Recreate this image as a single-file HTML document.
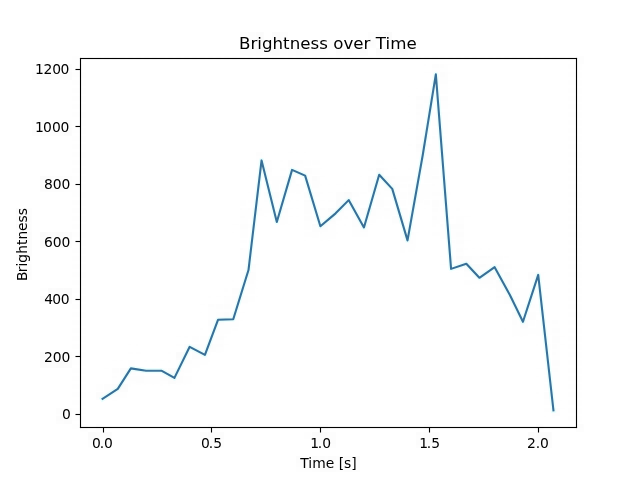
<!DOCTYPE html>
<html lang="en">
<head>
<meta charset="utf-8">
<title>Brightness over Time</title>
<style>
html,body{margin:0;padding:0;background:#fff}
body{width:640px;height:480px;overflow:hidden}
svg{display:block}
text{font-family:"DejaVu Sans","Liberation Sans",sans-serif;font-size:13.889px;fill:#000}
.title{font-size:16.667px}
.ax rect{fill:#000}
.line{stroke:#3a7198;stroke-width:2.083;stroke-linejoin:round;stroke-linecap:square;fill:none}
.halo{stroke:#0ff;stroke-opacity:0.08;stroke-width:5.25}
</style>
</head>
<body>
<svg width="640" height="480" viewBox="0 0 640 480" role="img" aria-label="Brightness over Time line chart">
<rect x="0" y="0" width="640" height="480" fill="#fff"/>
<!-- data line -->
<polyline class="line halo" points="102.55,398.75 117.79,388.82 130.86,368.4 146.11,370.7 161.36,370.7 174.43,377.89 189.68,346.82 204.93,354.88 218,319.78 233.24,319.21 248.49,270.02 261.56,160.41 276.81,221.98 292.06,169.91 305.13,175.66 320.38,226.29 335.62,213.35 348.69,200.11 363.94,227.44 379.19,174.8 392.26,188.89 407.51,240.39 422.76,154.95 435.83,74.4 451.07,268.87 466.32,263.69 479.39,277.78 494.64,267.14 509.89,295.04 522.96,321.8 538.21,274.91 553.45,410.4"/>
<polyline class="line" points="102.55,398.75 117.79,388.82 130.86,368.4 146.11,370.7 161.36,370.7 174.43,377.89 189.68,346.82 204.93,354.88 218,319.78 233.24,319.21 248.49,270.02 261.56,160.41 276.81,221.98 292.06,169.91 305.13,175.66 320.38,226.29 335.62,213.35 348.69,200.11 363.94,227.44 379.19,174.8 392.26,188.89 407.51,240.39 422.76,154.95 435.83,74.4 451.07,268.87 466.32,263.69 479.39,277.78 494.64,267.14 509.89,295.04 522.96,321.8 538.21,274.91 553.45,410.4"/>
<g class="ink">
<!-- x ticks -->
<g class="ax">
<rect x="102.945" y="427.5" width="1.111" height="5"/>
<rect x="210.945" y="427.5" width="1.111" height="5"/>
<rect x="319.945" y="427.5" width="1.111" height="5"/>
<rect x="428.945" y="427.5" width="1.111" height="5"/>
<rect x="537.944" y="427.5" width="1.111" height="5"/>
</g>
<!-- y ticks -->
<g class="ax">
<rect x="75.5" y="413.945" width="5" height="1.111"/>
<rect x="75.5" y="355.945" width="5" height="1.111"/>
<rect x="75.5" y="298.945" width="5" height="1.111"/>
<rect x="75.5" y="240.945" width="5" height="1.111"/>
<rect x="75.5" y="183.945" width="5" height="1.111"/>
<rect x="75.5" y="125.945" width="5" height="1.111"/>
<rect x="75.5" y="68.945" width="5" height="1.111"/>
</g>
<!-- spines -->
<g class="ax">
<rect x="79.944" y="57.944" width="1.111" height="370.111"/>
<rect x="575.944" y="57.944" width="1.111" height="370.111"/>
<rect x="79.944" y="426.944" width="497.111" height="1.111"/>
<rect x="79.944" y="57.944" width="497.111" height="1.111"/>
</g>
<!-- x tick labels -->
<g>
<text x="91.985 99.673 103.969" y="448">0.0</text>
<text x="200.895 208.708 213.129" y="448">0.5</text>
<text x="310.18 317.693 322.364" y="448">1.0</text>
<text x="419.215 426.728 431.149" y="448">1.5</text>
<text x="526.895 535.708 540.004" y="448">2.0</text>
</g>
<!-- y tick labels -->
<g>
<text x="62.03" y="419">0</text>
<text x="43.905 52.717 61.421" y="362">200</text>
<text x="44.205 52.142 60.721" y="304">400</text>
<text x="43.9 52.713 61.541" y="247">600</text>
<text x="43.9 52.713 61.541" y="189">800</text>
<text x="34.9 42.963 51.941 60.419" y="132">1000</text>
<text x="34.9 43.513 52.241 60.619" y="74">1200</text>
</g>
<!-- axis labels and title -->
<g>
<text class="xlabel" x="300.3 308.347 312.191 325.706 334.253 338.659 344.066 351.3" y="468">Time [s]</text>
<text class="ylabel" transform="rotate(-90)" x="-281.1 -272.334 -266.381 -262.772 -253.725 -244.928 -239.491 -231.069 -222.538 -215.303" y="26.5">Brightness</text>
<text class="title" x="238.94 250.388 257.258 261.909 272.513 283.101 289.643 300.231 310.507 319.205 327.919 333.242 343.455 353.341 363.601 370.486 375.809 385.491 390.142 406.403" y="49">Brightness over Time</text>
</g>
</g>
<g class="jpeg-noise" aria-hidden="true">
<path fill="#fff" fill-opacity="0.0043" d="M424 112h8v8h-8zM248 232h8v8h-8zM536 296h8v8h-8z"/>
<path fill="#fff" fill-opacity="0.0082" d="M80 56h8v8h-8zM416 160h8v8h-8zM392 200h8v8h-8zM272 208h8v8h-8zM408 216h8v8h-8zM400 224h8v8h-8zM536 288h8v8h-8zM520 312h8v8h-8zM88 424h8v8h-8zM112 424h8v8h-8zM120 424h8v8h-8zM128 424h8v8h-8zM136 424h8v8h-8zM144 424h8v8h-8zM152 424h8v8h-8zM160 424h8v8h-8zM168 424h8v8h-8zM176 424h8v8h-8zM184 424h8v8h-8zM192 424h8v8h-8zM200 424h8v8h-8zM216 424h8v8h-8zM224 424h8v8h-8zM232 424h8v8h-8zM240 424h8v8h-8zM248 424h8v8h-8zM256 424h8v8h-8zM264 424h8v8h-8zM272 424h8v8h-8zM280 424h8v8h-8zM288 424h8v8h-8zM296 424h8v8h-8zM304 424h8v8h-8zM328 424h8v8h-8zM336 424h8v8h-8zM344 424h8v8h-8zM352 424h8v8h-8zM360 424h8v8h-8zM368 424h8v8h-8zM376 424h8v8h-8zM384 424h8v8h-8zM392 424h8v8h-8zM400 424h8v8h-8zM408 424h8v8h-8zM416 424h8v8h-8zM432 424h8v8h-8zM440 424h8v8h-8zM448 424h8v8h-8zM456 424h8v8h-8zM464 424h8v8h-8zM472 424h8v8h-8zM480 424h8v8h-8zM488 424h8v8h-8zM496 424h8v8h-8zM504 424h8v8h-8zM512 424h8v8h-8zM520 424h8v8h-8zM528 424h8v8h-8zM544 424h8v8h-8zM552 424h8v8h-8zM560 424h8v8h-8z"/>
<path fill="#fff" fill-opacity="0.0122" d="M432 96h8v8h-8zM440 184h8v8h-8z"/>
<path fill="#fff" fill-opacity="0.0161" d="M424 120h8v8h-8zM416 168h8v8h-8zM440 168h8v8h-8zM408 208h8v8h-8z"/>
<path fill="#fff" fill-opacity="0.0200" d="M432 88h8v8h-8z"/>
<path fill="#fff" fill-opacity="0.0239" d="M424 128h8v8h-8z"/>
<path fill="#fff" fill-opacity="0.0278" d="M144 368h8v8h-8z"/>
<path fill="#fff" fill-opacity="0.0318" d="M152 368h8v8h-8z"/>
<path fill="#000" fill-opacity="0.0043" d="M240 32h8v8h-8zM280 32h8v8h-8zM368 32h8v8h-8zM280 40h8v8h-8zM288 40h8v8h-8zM304 40h8v8h-8zM312 40h8v8h-8zM320 40h8v8h-8zM344 40h8v8h-8zM352 40h8v8h-8zM320 48h8v8h-8zM408 48h8v8h-8zM32 64h8v8h-8zM432 64h8v8h-8zM440 64h8v8h-8zM440 80h8v8h-8zM416 96h8v8h-8zM424 96h8v8h-8zM440 96h8v8h-8zM416 104h8v8h-8zM416 112h8v8h-8zM440 112h8v8h-8zM48 120h8v8h-8zM416 120h8v8h-8zM416 128h8v8h-8zM416 136h8v8h-8zM432 136h8v8h-8zM424 144h8v8h-8zM256 152h8v8h-8zM424 152h8v8h-8zM264 160h8v8h-8zM288 160h8v8h-8zM296 160h8v8h-8zM424 160h8v8h-8zM264 168h8v8h-8zM288 168h8v8h-8zM296 168h8v8h-8zM304 168h8v8h-8zM424 168h8v8h-8zM64 176h8v8h-8zM280 176h8v8h-8zM288 176h8v8h-8zM304 176h8v8h-8zM376 176h8v8h-8zM392 176h8v8h-8zM432 176h8v8h-8zM64 184h8v8h-8zM72 184h8v8h-8zM280 184h8v8h-8zM288 184h8v8h-8zM296 184h8v8h-8zM312 184h8v8h-8zM376 184h8v8h-8zM384 184h8v8h-8zM408 184h8v8h-8zM416 184h8v8h-8zM432 184h8v8h-8zM264 192h8v8h-8zM272 192h8v8h-8zM304 192h8v8h-8zM312 192h8v8h-8zM336 192h8v8h-8zM376 192h8v8h-8zM408 192h8v8h-8zM432 192h8v8h-8zM256 200h8v8h-8zM264 200h8v8h-8zM272 200h8v8h-8zM312 200h8v8h-8zM344 200h8v8h-8zM376 200h8v8h-8zM432 200h8v8h-8zM24 208h8v8h-8zM240 208h8v8h-8zM248 208h8v8h-8zM256 208h8v8h-8zM280 208h8v8h-8zM304 208h8v8h-8zM320 208h8v8h-8zM336 208h8v8h-8zM352 208h8v8h-8zM376 208h8v8h-8zM384 208h8v8h-8zM400 208h8v8h-8zM432 208h8v8h-8zM240 216h8v8h-8zM280 216h8v8h-8zM304 216h8v8h-8zM320 216h8v8h-8zM352 216h8v8h-8zM392 216h8v8h-8zM400 216h8v8h-8zM432 216h8v8h-8zM240 224h8v8h-8zM328 224h8v8h-8zM352 224h8v8h-8zM440 224h8v8h-8zM448 224h8v8h-8zM456 224h8v8h-8zM16 232h8v8h-8zM320 232h8v8h-8zM408 232h8v8h-8zM456 232h8v8h-8zM16 240h8v8h-8zM400 240h8v8h-8zM408 240h8v8h-8zM448 240h8v8h-8zM456 240h8v8h-8zM240 248h8v8h-8zM456 248h8v8h-8zM24 256h8v8h-8zM464 256h8v8h-8zM480 256h8v8h-8zM488 256h8v8h-8zM16 264h8v8h-8zM248 264h8v8h-8zM488 264h8v8h-8zM472 272h8v8h-8zM528 272h8v8h-8zM536 272h8v8h-8zM248 280h8v8h-8zM480 280h8v8h-8zM488 280h8v8h-8zM232 288h8v8h-8zM240 288h8v8h-8zM496 288h8v8h-8zM504 288h8v8h-8zM224 296h8v8h-8zM232 296h8v8h-8zM240 296h8v8h-8zM496 296h8v8h-8zM512 296h8v8h-8zM208 304h8v8h-8zM216 304h8v8h-8zM224 304h8v8h-8zM520 304h8v8h-8zM528 304h8v8h-8zM216 312h8v8h-8zM232 312h8v8h-8zM208 320h8v8h-8zM216 320h8v8h-8zM512 320h8v8h-8zM536 320h8v8h-8zM544 320h8v8h-8zM552 320h8v8h-8zM216 328h8v8h-8zM520 328h8v8h-8zM552 328h8v8h-8zM208 336h8v8h-8zM216 336h8v8h-8zM552 336h8v8h-8zM184 344h8v8h-8zM192 344h8v8h-8zM200 344h8v8h-8zM216 344h8v8h-8zM552 344h8v8h-8zM48 352h8v8h-8zM184 352h8v8h-8zM200 352h8v8h-8zM552 352h8v8h-8zM184 360h8v8h-8zM192 360h8v8h-8zM552 360h8v8h-8zM112 368h8v8h-8zM128 368h8v8h-8zM136 368h8v8h-8zM160 368h8v8h-8zM176 368h8v8h-8zM552 368h8v8h-8zM112 376h8v8h-8zM120 376h8v8h-8zM128 376h8v8h-8zM136 376h8v8h-8zM144 376h8v8h-8zM160 376h8v8h-8zM176 376h8v8h-8zM552 376h8v8h-8zM104 384h8v8h-8zM104 392h8v8h-8zM112 392h8v8h-8zM544 392h8v8h-8zM552 392h8v8h-8zM56 408h8v8h-8zM80 424h8v8h-8zM96 424h8v8h-8zM208 424h8v8h-8zM320 424h8v8h-8zM424 424h8v8h-8zM536 424h8v8h-8zM88 440h8v8h-8zM96 440h8v8h-8zM104 440h8v8h-8zM200 440h8v8h-8zM216 440h8v8h-8zM432 440h8v8h-8zM304 456h8v8h-8zM336 456h8v8h-8zM296 464h8v8h-8zM304 464h8v8h-8z"/>
<path fill="#000" fill-opacity="0.0043" d="M240 32h7v6h-7zM248 32h7v4h-7zM256 32h7v7h-7zM272 32h8v7h-8zM280 32h8v7h-8zM368 32h7v7h-7zM376 32h4v4h-4zM384 32h5v4h-5zM240 40h5v1h-5zM248 40h5v4h-5zM256 40h8v6h-8zM264 40h8v8h-8zM272 40h6v5h-6zM280 40h4v4h-4zM288 40h8v7h-8zM296 40h7v5h-7zM304 40h5v2h-5zM312 40h4v2h-4zM320 40h8v5h-8zM328 40h7v1h-7zM336 40h8v6h-8zM344 40h6v4h-6zM352 40h8v7h-8zM360 40h8v8h-8zM368 40h6v6h-6zM376 40h6v4h-6zM384 40h6v4h-6zM392 40h6v4h-6zM400 40h7v2h-7zM408 40h4v3h-4zM240 48h8v7h-8zM248 48h5v2h-5zM256 48h7v6h-7zM264 48h8v5h-8zM272 48h7v7h-7zM280 48h7v6h-7zM288 48h4v3h-4zM296 48h8v7h-8zM304 48h4v3h-4zM312 48h5v3h-5zM320 48h6v4h-6zM328 48h2v1h-2zM336 48h6v5h-6zM344 48h5v1h-5zM352 48h7v2h-7zM360 48h6v5h-6zM376 48h5v5h-5zM384 48h8v6h-8zM392 48h7v5h-7zM400 48h6v4h-6zM408 48h8v7h-8zM72 56h8v8h-8zM88 56h5v4h-5zM96 56h5v4h-5zM104 56h5v4h-5zM112 56h5v4h-5zM120 56h5v4h-5zM128 56h5v4h-5zM136 56h5v4h-5zM144 56h5v4h-5zM152 56h5v4h-5zM160 56h5v4h-5zM168 56h5v4h-5zM176 56h5v4h-5zM184 56h5v4h-5zM192 56h5v4h-5zM200 56h5v4h-5zM208 56h5v4h-5zM216 56h5v4h-5zM224 56h5v4h-5zM232 56h5v4h-5zM240 56h5v4h-5zM248 56h5v4h-5zM256 56h5v4h-5zM264 56h5v4h-5zM272 56h5v4h-5zM280 56h5v4h-5zM288 56h5v4h-5zM296 56h5v4h-5zM304 56h5v4h-5zM312 56h5v4h-5zM320 56h5v4h-5zM328 56h5v4h-5zM336 56h5v4h-5zM344 56h5v4h-5zM352 56h5v4h-5zM360 56h5v4h-5zM368 56h5v4h-5zM376 56h5v4h-5zM384 56h5v4h-5zM392 56h5v4h-5zM400 56h5v4h-5zM408 56h5v4h-5zM416 56h5v4h-5zM424 56h5v4h-5zM432 56h6v4h-6zM440 56h5v4h-5zM448 56h5v4h-5zM456 56h5v4h-5zM464 56h5v4h-5zM472 56h5v4h-5zM480 56h5v4h-5zM488 56h5v4h-5zM496 56h5v4h-5zM504 56h5v4h-5zM512 56h5v4h-5zM520 56h5v4h-5zM528 56h5v4h-5zM536 56h5v4h-5zM544 56h5v4h-5zM552 56h5v4h-5zM560 56h5v4h-5zM568 56h5v5h-5zM576 56h2v2h-2zM32 64h6v6h-6zM40 64h8v8h-8zM48 64h8v4h-8zM56 64h8v7h-8zM64 64h8v6h-8zM72 64h8v7h-8zM80 64h6v6h-6zM424 64h2v2h-2zM432 64h7v4h-7zM440 64h4v4h-4zM448 64h5v1h-5zM568 64h8v5h-8zM576 64h6v6h-6zM40 72h8v5h-8zM48 72h7v4h-7zM56 72h8v7h-8zM64 72h8v8h-8zM72 72h8v5h-8zM80 72h6v6h-6zM424 72h7v1h-7zM432 72h7v6h-7zM440 72h5v5h-5zM448 72h4v2h-4zM568 72h8v5h-8zM576 72h6v6h-6zM72 80h8v5h-8zM80 80h6v6h-6zM432 80h6v4h-6zM440 80h8v4h-8zM448 80h7v1h-7zM568 80h8v5h-8zM576 80h6v6h-6zM72 88h8v5h-8zM80 88h6v6h-6zM416 88h2v1h-2zM424 88h8v4h-8zM432 88h3v2h-3zM440 88h8v6h-8zM448 88h2v1h-2zM568 88h8v5h-8zM576 88h6v6h-6zM72 96h8v5h-8zM80 96h6v6h-6zM408 96h2v1h-2zM416 96h7v4h-7zM424 96h7v7h-7zM440 96h8v5h-8zM568 96h8v5h-8zM576 96h6v6h-6zM72 104h8v5h-8zM80 104h6v6h-6zM408 104h2v1h-2zM416 104h7v5h-7zM424 104h8v8h-8zM432 104h2v1h-2zM440 104h8v5h-8zM448 104h2v1h-2zM568 104h8v5h-8zM576 104h6v6h-6zM72 112h8v5h-8zM80 112h6v6h-6zM408 112h2v1h-2zM416 112h4v3h-4zM424 112h5v1h-5zM432 112h8v8h-8zM440 112h3v2h-3zM448 112h4v2h-4zM568 112h8v5h-8zM576 112h6v6h-6zM32 120h4v3h-4zM40 120h5v5h-5zM48 120h7v7h-7zM56 120h6v4h-6zM64 120h7v7h-7zM72 120h7v6h-7zM80 120h6v6h-6zM408 120h5v1h-5zM416 120h6v5h-6zM432 120h8v6h-8zM440 120h8v8h-8zM448 120h4v2h-4zM568 120h8v5h-8zM576 120h6v6h-6zM32 128h6v5h-6zM40 128h7v6h-7zM48 128h4v3h-4zM56 128h7v6h-7zM64 128h7v7h-7zM72 128h8v5h-8zM80 128h6v6h-6zM408 128h5v1h-5zM416 128h7v2h-7zM424 128h4v2h-4zM432 128h7v7h-7zM440 128h8v6h-8zM568 128h8v5h-8zM576 128h6v6h-6zM72 136h8v5h-8zM80 136h6v6h-6zM416 136h6v4h-6zM424 136h7v3h-7zM432 136h3v3h-3zM440 136h7v3h-7zM568 136h8v5h-8zM576 136h6v6h-6zM72 144h8v5h-8zM80 144h6v6h-6zM408 144h4v2h-4zM416 144h8v4h-8zM424 144h7v2h-7zM432 144h7v7h-7zM440 144h8v6h-8zM568 144h8v5h-8zM576 144h6v6h-6zM72 152h8v5h-8zM80 152h6v6h-6zM256 152h6v4h-6zM288 152h5v1h-5zM296 152h2v1h-2zM304 152h2v1h-2zM416 152h7v7h-7zM424 152h8v4h-8zM432 152h8v8h-8zM440 152h6v5h-6zM568 152h8v5h-8zM576 152h6v6h-6zM72 160h8v5h-8zM80 160h6v6h-6zM256 160h6v5h-6zM264 160h7v2h-7zM280 160h3v2h-3zM288 160h8v7h-8zM296 160h7v4h-7zM304 160h7v6h-7zM312 160h8v5h-8zM376 160h8v5h-8zM424 160h8v5h-8zM432 160h8v7h-8zM440 160h2v1h-2zM448 160h2v1h-2zM568 160h8v5h-8zM576 160h6v6h-6zM72 168h8v5h-8zM80 168h6v6h-6zM248 168h2v1h-2zM256 168h6v3h-6zM264 168h8v4h-8zM272 168h2v1h-2zM280 168h6v3h-6zM288 168h7v1h-7zM296 168h3v2h-3zM304 168h8v6h-8zM312 168h8v7h-8zM320 168h2v1h-2zM368 168h5v3h-5zM376 168h5v5h-5zM384 168h4v2h-4zM392 168h5v1h-5zM408 168h2v2h-2zM416 168h2v2h-2zM424 168h1v1h-1zM432 168h7v7h-7zM440 168h3v1h-3zM568 168h8v5h-8zM576 168h6v6h-6zM40 176h6v4h-6zM48 176h6v5h-6zM56 176h7v4h-7zM64 176h8v6h-8zM72 176h7v7h-7zM80 176h6v6h-6zM248 176h2v1h-2zM256 176h7v2h-7zM264 176h8v5h-8zM272 176h8v8h-8zM280 176h7v6h-7zM288 176h7v7h-7zM296 176h8v4h-8zM304 176h1v1h-1zM312 176h5v5h-5zM320 176h5v1h-5zM360 176h2v1h-2zM376 176h7v2h-7zM384 176h5v5h-5zM392 176h3v3h-3zM400 176h8v6h-8zM408 176h6v5h-6zM416 176h6v4h-6zM424 176h8v7h-8zM432 176h7v3h-7zM440 176h2v1h-2zM448 176h2v2h-2zM568 176h8v5h-8zM576 176h6v6h-6zM40 184h8v7h-8zM48 184h8v4h-8zM56 184h6v6h-6zM64 184h6v6h-6zM72 184h3v3h-3zM80 184h6v6h-6zM256 184h6v6h-6zM264 184h8v6h-8zM272 184h7v6h-7zM280 184h8v5h-8zM288 184h4v3h-4zM296 184h3v2h-3zM304 184h7v4h-7zM312 184h7v4h-7zM320 184h2v2h-2zM328 184h2v1h-2zM336 184h5v1h-5zM344 184h2v2h-2zM360 184h3v1h-3zM368 184h5v2h-5zM384 184h7v7h-7zM392 184h4v4h-4zM400 184h7v4h-7zM408 184h3v3h-3zM416 184h1v1h-1zM424 184h8v8h-8zM432 184h3v2h-3zM440 184h2v1h-2zM568 184h8v5h-8zM576 184h6v6h-6zM72 192h8v5h-8zM80 192h6v6h-6zM248 192h2v1h-2zM256 192h5v5h-5zM264 192h6v4h-6zM272 192h7v6h-7zM280 192h4v4h-4zM288 192h7v1h-7zM296 192h5v2h-5zM304 192h7v6h-7zM312 192h8v5h-8zM320 192h3v2h-3zM328 192h5v1h-5zM336 192h8v8h-8zM344 192h7v2h-7zM352 192h7v5h-7zM360 192h7v2h-7zM368 192h7v1h-7zM376 192h5v3h-5zM384 192h8v5h-8zM392 192h8v8h-8zM400 192h7v7h-7zM408 192h5v3h-5zM416 192h8v8h-8zM424 192h8v7h-8zM432 192h8v4h-8zM440 192h7v4h-7zM448 192h3v3h-3zM568 192h8v5h-8zM576 192h6v6h-6zM72 200h8v5h-8zM80 200h6v6h-6zM240 200h6v6h-6zM248 200h7v3h-7zM264 200h4v2h-4zM272 200h7v4h-7zM280 200h8v5h-8zM288 200h3v2h-3zM296 200h3v1h-3zM304 200h7v2h-7zM312 200h1v1h-1zM320 200h5v1h-5zM328 200h7v2h-7zM336 200h8v7h-8zM344 200h3v1h-3zM352 200h6v5h-6zM360 200h8v5h-8zM368 200h8v6h-8zM376 200h8v7h-8zM384 200h7v6h-7zM392 200h5v1h-5zM400 200h6v6h-6zM408 200h8v5h-8zM416 200h7v3h-7zM424 200h6v5h-6zM432 200h7v7h-7zM440 200h8v6h-8zM568 200h8v5h-8zM576 200h6v6h-6zM16 208h4v4h-4zM24 208h8v8h-8zM72 208h8v5h-8zM80 208h6v6h-6zM240 208h2v2h-2zM248 208h2v2h-2zM256 208h6v3h-6zM264 208h8v5h-8zM272 208h2v2h-2zM280 208h8v5h-8zM288 208h5v1h-5zM296 208h3v1h-3zM304 208h8v6h-8zM312 208h7v2h-7zM320 208h5v2h-5zM328 208h6v4h-6zM336 208h8v5h-8zM344 208h6v3h-6zM352 208h6v3h-6zM360 208h8v7h-8zM368 208h4v4h-4zM376 208h5v1h-5zM384 208h6v3h-6zM392 208h8v7h-8zM400 208h7v2h-7zM416 208h2v1h-2zM424 208h2v1h-2zM432 208h6v4h-6zM440 208h8v4h-8zM456 208h4v3h-4zM568 208h8v5h-8zM576 208h6v6h-6zM16 216h5v5h-5zM24 216h7v6h-7zM72 216h8v5h-8zM80 216h6v6h-6zM240 216h5v2h-5zM248 216h6v3h-6zM264 216h3v1h-3zM272 216h6v3h-6zM280 216h5v4h-5zM288 216h5v1h-5zM296 216h3v1h-3zM304 216h8v5h-8zM312 216h8v6h-8zM320 216h7v2h-7zM328 216h7v6h-7zM336 216h6v5h-6zM344 216h4v3h-4zM352 216h8v8h-8zM360 216h8v4h-8zM368 216h8v7h-8zM376 216h6v3h-6zM384 216h6v3h-6zM392 216h8v7h-8zM400 216h5v4h-5zM432 216h5v4h-5zM440 216h8v6h-8zM448 216h6v3h-6zM456 216h8v8h-8zM464 216h7v1h-7zM568 216h8v5h-8zM576 216h6v6h-6zM16 224h4v4h-4zM24 224h7v6h-7zM72 224h8v5h-8zM80 224h6v6h-6zM232 224h7v1h-7zM240 224h8v5h-8zM248 224h7v4h-7zM256 224h2v2h-2zM280 224h5v1h-5zM288 224h2v1h-2zM296 224h2v1h-2zM304 224h7v6h-7zM312 224h4v2h-4zM320 224h8v6h-8zM328 224h2v2h-2zM336 224h3v1h-3zM344 224h2v2h-2zM352 224h7v3h-7zM360 224h7v4h-7zM368 224h5v1h-5zM392 224h2v1h-2zM400 224h3v1h-3zM408 224h8v5h-8zM432 224h4v3h-4zM440 224h3v3h-3zM448 224h8v5h-8zM456 224h8v5h-8zM568 224h8v5h-8zM576 224h6v6h-6zM16 232h8v7h-8zM24 232h7v3h-7zM40 232h6v5h-6zM48 232h3v1h-3zM56 232h7v6h-7zM64 232h8v7h-8zM72 232h8v5h-8zM80 232h6v6h-6zM232 232h2v1h-2zM240 232h8v6h-8zM304 232h8v5h-8zM312 232h7v6h-7zM320 232h2v2h-2zM328 232h8v7h-8zM336 232h2v2h-2zM352 232h8v5h-8zM360 232h8v5h-8zM400 232h7v6h-7zM408 232h6v3h-6zM416 232h3v1h-3zM432 232h8v4h-8zM440 232h8v7h-8zM448 232h8v7h-8zM456 232h8v5h-8zM568 232h8v5h-8zM576 232h6v6h-6zM16 240h6v4h-6zM24 240h4v4h-4zM40 240h6v6h-6zM48 240h8v7h-8zM56 240h8v8h-8zM64 240h4v4h-4zM72 240h8v6h-8zM80 240h6v6h-6zM240 240h7v3h-7zM248 240h4v3h-4zM256 240h2v2h-2zM304 240h2v1h-2zM320 240h3v1h-3zM328 240h3v1h-3zM400 240h5v1h-5zM408 240h5v4h-5zM440 240h2v1h-2zM448 240h7v3h-7zM456 240h8v4h-8zM464 240h7v1h-7zM568 240h8v5h-8zM576 240h6v6h-6zM16 248h7v6h-7zM24 248h8v8h-8zM72 248h8v5h-8zM80 248h6v6h-6zM240 248h3v2h-3zM248 248h2v1h-2zM400 248h5v5h-5zM408 248h7v4h-7zM448 248h7v2h-7zM456 248h7v4h-7zM464 248h4v2h-4zM472 248h3v1h-3zM480 248h2v2h-2zM488 248h2v2h-2zM568 248h8v5h-8zM576 248h6v6h-6zM16 256h7v6h-7zM24 256h7v7h-7zM72 256h8v5h-8zM80 256h6v6h-6zM240 256h7v6h-7zM248 256h5v5h-5zM256 256h2v2h-2zM440 256h3v1h-3zM448 256h7v7h-7zM456 256h7v3h-7zM464 256h8v8h-8zM472 256h8v7h-8zM480 256h7v2h-7zM488 256h2v2h-2zM496 256h7v5h-7zM504 256h5v2h-5zM568 256h8v5h-8zM576 256h6v6h-6zM16 264h6v3h-6zM24 264h7v6h-7zM72 264h8v5h-8zM80 264h6v6h-6zM240 264h7v7h-7zM248 264h8v4h-8zM256 264h3v1h-3zM440 264h7v1h-7zM448 264h6v6h-6zM456 264h7v7h-7zM464 264h8v7h-8zM472 264h8v7h-8zM480 264h6v3h-6zM488 264h5v4h-5zM496 264h5v3h-5zM504 264h8v5h-8zM528 264h2v1h-2zM536 264h2v1h-2zM568 264h8v5h-8zM576 264h6v6h-6zM16 272h6v6h-6zM24 272h7v4h-7zM72 272h8v5h-8zM80 272h6v6h-6zM240 272h7v6h-7zM248 272h5v1h-5zM448 272h5v1h-5zM456 272h3v1h-3zM464 272h8v5h-8zM472 272h5v5h-5zM480 272h7v3h-7zM488 272h7v2h-7zM496 272h7v7h-7zM504 272h6v4h-6zM512 272h3v2h-3zM528 272h8v7h-8zM536 272h3v2h-3zM544 272h2v1h-2zM568 272h8v5h-8zM576 272h6v6h-6zM72 280h8v5h-8zM80 280h6v6h-6zM232 280h2v2h-2zM240 280h7v1h-7zM248 280h6v4h-6zM256 280h2v1h-2zM464 280h8v5h-8zM472 280h8v4h-8zM480 280h8v4h-8zM488 280h5v4h-5zM496 280h7v3h-7zM504 280h4v4h-4zM512 280h5v1h-5zM520 280h3v1h-3zM528 280h8v7h-8zM536 280h6v3h-6zM544 280h2v2h-2zM568 280h8v5h-8zM576 280h6v6h-6zM40 288h7v3h-7zM48 288h4v4h-4zM56 288h7v7h-7zM64 288h8v7h-8zM72 288h8v5h-8zM80 288h6v6h-6zM224 288h4v4h-4zM232 288h7v6h-7zM240 288h3v2h-3zM248 288h7v6h-7zM256 288h2v1h-2zM472 288h2v1h-2zM480 288h2v2h-2zM488 288h4v2h-4zM496 288h8v4h-8zM504 288h8v6h-8zM512 288h8v7h-8zM520 288h8v8h-8zM528 288h8v7h-8zM536 288h2v2h-2zM544 288h5v1h-5zM568 288h8v5h-8zM576 288h6v6h-6zM40 296h8v7h-8zM48 296h7v7h-7zM56 296h8v8h-8zM64 296h8v7h-8zM72 296h7v6h-7zM80 296h6v6h-6zM208 296h3v2h-3zM216 296h5v1h-5zM224 296h2v1h-2zM232 296h8v7h-8zM240 296h8v7h-8zM248 296h7v6h-7zM256 296h2v1h-2zM488 296h3v1h-3zM496 296h7v2h-7zM504 296h8v4h-8zM512 296h7v5h-7zM520 296h7v7h-7zM528 296h8v8h-8zM544 296h4v2h-4zM568 296h8v5h-8zM576 296h6v6h-6zM72 304h8v5h-8zM80 304h6v6h-6zM200 304h5v1h-5zM208 304h6v3h-6zM216 304h7v5h-7zM224 304h8v5h-8zM232 304h7v6h-7zM512 304h7v7h-7zM520 304h8v5h-8zM528 304h7v4h-7zM536 304h7v7h-7zM568 304h8v5h-8zM576 304h6v6h-6zM72 312h8v5h-8zM80 312h6v6h-6zM200 312h2v1h-2zM208 312h8v8h-8zM216 312h8v7h-8zM224 312h5v5h-5zM232 312h5v3h-5zM240 312h5v1h-5zM504 312h3v1h-3zM512 312h8v4h-8zM528 312h1v1h-1zM536 312h6v3h-6zM544 312h2v1h-2zM568 312h8v5h-8zM576 312h6v6h-6zM72 320h8v5h-8zM80 320h6v6h-6zM208 320h6v6h-6zM216 320h8v5h-8zM224 320h8v8h-8zM232 320h7v7h-7zM240 320h3v1h-3zM504 320h2v1h-2zM512 320h5v5h-5zM520 320h5v4h-5zM528 320h7v6h-7zM536 320h2v1h-2zM544 320h6v3h-6zM552 320h6v4h-6zM568 320h8v5h-8zM576 320h6v6h-6zM72 328h8v5h-8zM80 328h6v6h-6zM200 328h3v2h-3zM208 328h8v5h-8zM216 328h4v4h-4zM224 328h7v6h-7zM232 328h6v3h-6zM504 328h2v2h-2zM512 328h8v8h-8zM520 328h7v1h-7zM528 328h8v6h-8zM536 328h8v8h-8zM544 328h8v7h-8zM552 328h8v5h-8zM568 328h8v5h-8zM576 328h6v6h-6zM72 336h8v5h-8zM80 336h6v6h-6zM176 336h5v1h-5zM184 336h4v2h-4zM192 336h7v6h-7zM200 336h8v8h-8zM208 336h5v5h-5zM216 336h8v4h-8zM224 336h3v2h-3zM512 336h2v1h-2zM520 336h3v1h-3zM544 336h5v4h-5zM552 336h8v7h-8zM560 336h5v1h-5zM568 336h8v5h-8zM576 336h6v6h-6zM72 344h8v5h-8zM80 344h6v6h-6zM128 344h3v1h-3zM136 344h2v2h-2zM176 344h7v2h-7zM184 344h7v7h-7zM192 344h8v7h-8zM200 344h7v5h-7zM208 344h5v5h-5zM216 344h7v3h-7zM224 344h5v1h-5zM536 344h2v2h-2zM544 344h7v6h-7zM552 344h5v5h-5zM560 344h5v1h-5zM568 344h8v5h-8zM576 344h6v6h-6zM40 352h8v6h-8zM48 352h7v3h-7zM56 352h8v6h-8zM64 352h5v2h-5zM72 352h7v6h-7zM80 352h6v6h-6zM128 352h5v2h-5zM136 352h5v2h-5zM168 352h3v2h-3zM176 352h6v6h-6zM184 352h6v3h-6zM192 352h8v7h-8zM200 352h7v6h-7zM208 352h3v3h-3zM216 352h5v1h-5zM544 352h5v1h-5zM552 352h4v3h-4zM568 352h8v5h-8zM576 352h6v6h-6zM40 360h7v7h-7zM48 360h4v3h-4zM56 360h6v4h-6zM64 360h4v4h-4zM72 360h8v5h-8zM80 360h6v6h-6zM112 360h5v1h-5zM120 360h3v1h-3zM128 360h7v7h-7zM144 360h3v2h-3zM152 360h4v2h-4zM160 360h5v1h-5zM168 360h3v3h-3zM176 360h8v7h-8zM184 360h8v4h-8zM200 360h8v5h-8zM208 360h2v2h-2zM544 360h6v4h-6zM552 360h8v6h-8zM568 360h8v5h-8zM576 360h6v6h-6zM72 368h8v5h-8zM80 368h6v6h-6zM104 368h5v1h-5zM112 368h7v5h-7zM120 368h8v7h-8zM128 368h8v7h-8zM136 368h6v4h-6zM160 368h7v4h-7zM168 368h8v7h-8zM176 368h8v4h-8zM184 368h8v5h-8zM536 368h7v1h-7zM544 368h7v7h-7zM552 368h6v4h-6zM568 368h8v5h-8zM576 368h6v6h-6zM72 376h8v5h-8zM80 376h6v6h-6zM112 376h5v2h-5zM120 376h2v1h-2zM128 376h8v5h-8zM136 376h8v7h-8zM144 376h1v1h-1zM152 376h8v8h-8zM160 376h8v5h-8zM168 376h7v3h-7zM176 376h7v7h-7zM184 376h8v8h-8zM536 376h3v1h-3zM544 376h6v6h-6zM568 376h8v5h-8zM576 376h6v6h-6zM72 384h8v5h-8zM80 384h6v6h-6zM96 384h7v7h-7zM104 384h8v8h-8zM112 384h7v6h-7zM120 384h6v5h-6zM128 384h3v3h-3zM136 384h5v1h-5zM144 384h2v1h-2zM152 384h2v1h-2zM160 384h3v2h-3zM168 384h2v2h-2zM176 384h5v1h-5zM184 384h2v1h-2zM544 384h8v7h-8zM552 384h8v8h-8zM568 384h8v5h-8zM576 384h6v6h-6zM72 392h8v5h-8zM80 392h6v6h-6zM88 392h3v1h-3zM96 392h7v6h-7zM104 392h8v7h-8zM112 392h8v5h-8zM120 392h7v6h-7zM536 392h3v2h-3zM544 392h8v7h-8zM552 392h3v3h-3zM568 392h8v5h-8zM576 392h6v6h-6zM72 400h8v5h-8zM80 400h6v6h-6zM104 400h3v1h-3zM112 400h5v1h-5zM544 400h7v5h-7zM552 400h8v7h-8zM560 400h2v1h-2zM568 400h8v5h-8zM576 400h6v6h-6zM56 408h8v6h-8zM64 408h7v5h-7zM72 408h7v6h-7zM80 408h6v6h-6zM544 408h8v4h-8zM552 408h6v4h-6zM560 408h5v1h-5zM568 408h8v5h-8zM576 408h6v6h-6zM56 416h7v5h-7zM64 416h4v3h-4zM72 416h8v5h-8zM80 416h6v6h-6zM544 416h2v1h-2zM552 416h3v2h-3zM568 416h8v5h-8zM576 416h6v6h-6zM72 424h8v5h-8zM80 424h7v7h-7zM96 424h6v6h-6zM104 424h2v1h-2zM208 424h8v4h-8zM312 424h2v1h-2zM320 424h8v5h-8zM424 424h7v6h-7zM536 424h7v6h-7zM568 424h2v2h-2zM576 424h7v4h-7zM88 432h8v8h-8zM96 432h7v7h-7zM104 432h7v4h-7zM200 432h7v6h-7zM208 432h7v6h-7zM216 432h8v7h-8zM304 432h7v7h-7zM312 432h7v4h-7zM320 432h7v4h-7zM328 432h1v1h-1zM416 432h5v3h-5zM424 432h2v1h-2zM432 432h7v5h-7zM528 432h6v4h-6zM536 432h8v7h-8zM544 432h7v6h-7zM88 440h8v7h-8zM96 440h8v7h-8zM104 440h7v4h-7zM200 440h7v7h-7zM208 440h8v7h-8zM216 440h8v7h-8zM312 440h8v6h-8zM320 440h8v6h-8zM328 440h8v4h-8zM416 440h7v5h-7zM424 440h7v6h-7zM432 440h8v6h-8zM528 440h7v6h-7zM536 440h4v3h-4zM544 440h4v4h-4zM296 456h7v7h-7zM304 456h6v5h-6zM312 456h5v4h-5zM320 456h5v5h-5zM328 456h8v7h-8zM336 456h7v5h-7zM344 456h8v7h-8zM352 456h7v4h-7zM296 464h6v3h-6zM304 464h8v6h-8zM312 464h7v3h-7zM320 464h4v3h-4zM328 464h5v2h-5zM336 464h6v4h-6zM344 464h3v2h-3zM352 464h8v5h-8z"/>
<path fill="#000" fill-opacity="0.0082" d="M248 32h8v8h-8zM376 32h8v8h-8zM248 40h8v8h-8zM272 40h8v8h-8zM328 40h8v8h-8zM368 40h8v8h-8zM400 40h8v8h-8zM240 48h8v8h-8zM280 48h8v8h-8zM304 48h8v8h-8zM312 48h8v8h-8zM336 48h8v8h-8zM352 48h8v8h-8zM576 56h8v8h-8zM40 64h8v8h-8zM48 64h8v8h-8zM64 64h8v8h-8zM40 72h8v8h-8zM56 72h8v8h-8zM64 72h8v8h-8zM440 72h8v8h-8zM32 120h8v8h-8zM40 120h8v8h-8zM56 120h8v8h-8zM64 120h8v8h-8zM32 128h8v8h-8zM40 128h8v8h-8zM48 128h8v8h-8zM56 128h8v8h-8zM416 144h8v8h-8zM376 168h8v8h-8zM48 176h8v8h-8zM56 176h8v8h-8zM312 176h8v8h-8zM368 176h8v8h-8zM384 176h8v8h-8zM40 184h8v8h-8zM48 184h8v8h-8zM56 184h8v8h-8zM368 184h8v8h-8zM392 184h8v8h-8zM304 200h8v8h-8zM336 200h8v8h-8zM352 200h8v8h-8zM328 208h8v8h-8zM360 208h8v8h-8zM368 208h8v8h-8zM16 216h8v8h-8zM24 216h8v8h-8zM328 216h8v8h-8zM16 224h8v8h-8zM24 224h8v8h-8zM312 224h8v8h-8zM320 224h8v8h-8zM360 224h8v8h-8zM64 232h8v8h-8zM56 240h8v8h-8zM64 240h8v8h-8zM16 248h8v8h-8zM24 248h8v8h-8zM16 256h8v8h-8zM456 256h8v8h-8zM24 264h8v8h-8zM464 264h8v8h-8zM472 264h8v8h-8zM480 264h8v8h-8zM496 264h8v8h-8zM24 272h8v8h-8zM248 272h8v8h-8zM480 272h8v8h-8zM504 272h8v8h-8zM496 280h8v8h-8zM40 296h8v8h-8zM64 296h8v8h-8zM504 296h8v8h-8zM224 312h8v8h-8zM512 312h8v8h-8zM528 312h8v8h-8zM208 344h8v8h-8zM56 352h8v8h-8zM64 352h8v8h-8zM192 352h8v8h-8zM120 368h8v8h-8zM168 368h8v8h-8zM112 384h8v8h-8zM96 392h8v8h-8zM64 408h8v8h-8zM552 408h8v8h-8zM56 416h8v8h-8zM576 424h8v8h-8zM96 432h8v8h-8zM200 432h8v8h-8zM216 432h8v8h-8zM328 432h8v8h-8zM416 432h8v8h-8zM432 432h8v8h-8zM208 440h8v8h-8zM312 440h8v8h-8zM320 440h8v8h-8zM328 440h8v8h-8zM416 440h8v8h-8zM424 440h8v8h-8zM528 440h8v8h-8zM536 440h8v8h-8zM296 456h8v8h-8zM312 456h8v8h-8zM320 456h8v8h-8zM328 456h8v8h-8zM344 456h8v8h-8zM312 464h8v8h-8zM336 464h8v8h-8zM352 464h8v8h-8z"/>
<path fill="#000" fill-opacity="0.0122" d="M256 32h8v8h-8zM272 32h8v8h-8zM248 48h8v8h-8zM256 48h8v8h-8zM264 48h8v8h-8zM272 48h8v8h-8zM288 48h8v8h-8zM296 48h8v8h-8zM344 48h8v8h-8zM360 48h8v8h-8zM376 48h8v8h-8zM384 48h8v8h-8zM392 48h8v8h-8zM400 48h8v8h-8zM32 72h8v8h-8zM48 72h8v8h-8zM64 128h8v8h-8zM40 176h8v8h-8zM344 192h8v8h-8zM16 208h8v8h-8zM24 232h8v8h-8zM48 232h8v8h-8zM56 232h8v8h-8zM24 240h8v8h-8zM40 240h8v8h-8zM488 272h8v8h-8zM504 280h8v8h-8zM48 288h8v8h-8zM56 288h8v8h-8zM64 288h8v8h-8zM520 320h8v8h-8zM40 352h8v8h-8zM176 352h8v8h-8zM40 360h8v8h-8zM48 360h8v8h-8zM64 360h8v8h-8zM168 376h8v8h-8zM120 384h8v8h-8zM64 416h8v8h-8zM88 432h8v8h-8zM104 432h8v8h-8zM208 432h8v8h-8zM312 432h8v8h-8zM320 432h8v8h-8zM424 432h8v8h-8zM528 432h8v8h-8zM536 432h8v8h-8zM544 432h8v8h-8zM544 440h8v8h-8zM352 456h8v8h-8zM320 464h8v8h-8zM328 464h8v8h-8zM344 464h8v8h-8z"/>
<path fill="#000" fill-opacity="0.0161" d="M384 32h8v8h-8zM40 232h8v8h-8zM56 360h8v8h-8z"/>
</g>
</svg>
</body>
</html>
